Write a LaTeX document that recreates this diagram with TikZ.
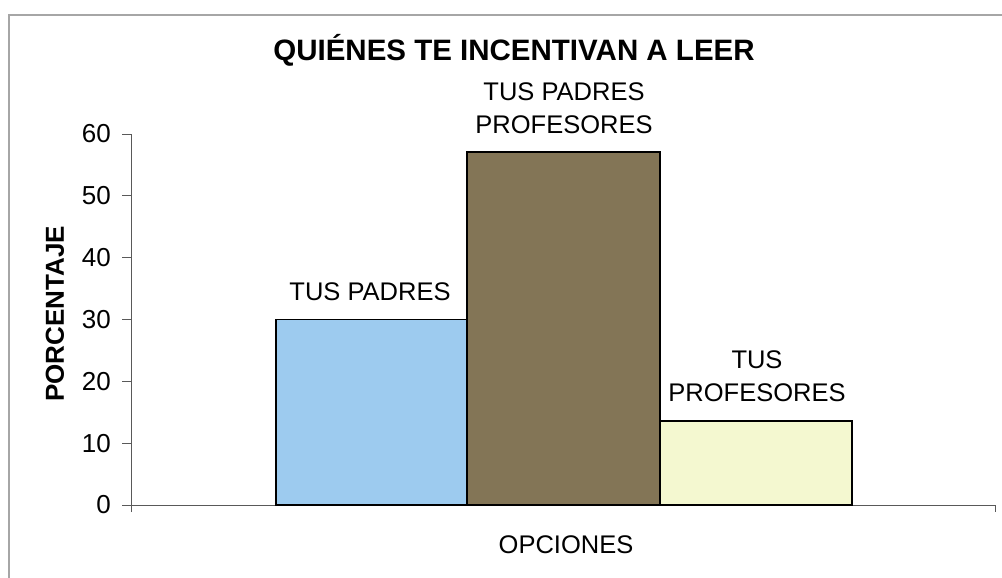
\documentclass[tikz,border=0pt]{standalone}
\usepackage{fontspec}
\setmainfont{Liberation Sans}
\begin{document}
\begin{tikzpicture}[x=1pt,y=-1pt,
  lbl/.style={font=\fontsize{25.5}{33}\selectfont, align=center, inner sep=0pt},
  ttl/.style={font=\bfseries\fontsize{29.5}{32}\selectfont, inner sep=0pt},
  ylbl/.style={font=\bfseries\fontsize{26}{30}\selectfont, inner sep=0pt, rotate=90},
  ticklbl/.style={font=\fontsize{26}{28}\selectfont, anchor=east, inner sep=0pt},
  axisline/.style={draw=black!65, line width=1pt},
  framel/.style={draw=black!35, line width=1.2pt},
  barbox/.style={draw=black, line width=1.6pt}]
\useasboundingbox (0,0) rectangle (1002,578);
\fill[white] (0,0) rectangle (1002,578);
% frame
\coordinate (fa) at (9,578);
\coordinate (fb) at (9,15);
\coordinate (fc) at (1002,15);
\draw[framel] (fa) -- (fb) -- (fc);
% title
\node[ttl] (title) at (514,50) {QUIÉNES TE INCENTIVAN A LEER};
% axes
\coordinate (o) at (131,505);
\coordinate (ytop) at (131,134);
\coordinate (xend) at (995,505);
\coordinate (obot) at (131,512);
\coordinate (xendbot) at (995,512);
\draw[axisline] (obot) -- (ytop);
\draw[axisline] (o) -- (xend) -- (xendbot);
\foreach \v in {0,10,...,60}{
  \coordinate (tk\v) at (122,{505-\v*6.183});
  \coordinate (ta\v) at (131,{505-\v*6.183});
  \draw[axisline] (tk\v) -- (ta\v);
  \node[ticklbl] (n\v) at (111,{505-\v*6.183}) {\v};
}
% bars
\draw[barbox, fill={rgb,255:red,157;green,203;blue,239}] (276,505) rectangle (467,{505-30*6.183});
\draw[barbox, fill={rgb,255:red,131;green,117;blue,86}] (467,505) rectangle (660,{505-57.1*6.183});
\draw[barbox, fill={rgb,255:red,244;green,248;blue,208}] (660,505) rectangle (852,{505-13.6*6.183});
% labels
\node[lbl] (l1) at (370,292) {TUS PADRES};
\node[lbl] (l2) at (564,108.5) {TUS PADRES\\PROFESORES};
\node[lbl] (l3) at (757,376.5) {TUS\\PROFESORES};
\node[ylbl] (yl) at (55,314) {PORCENTAJE};
\node[lbl] (xl) at (566,545) {OPCIONES};
\end{tikzpicture}
\end{document}
